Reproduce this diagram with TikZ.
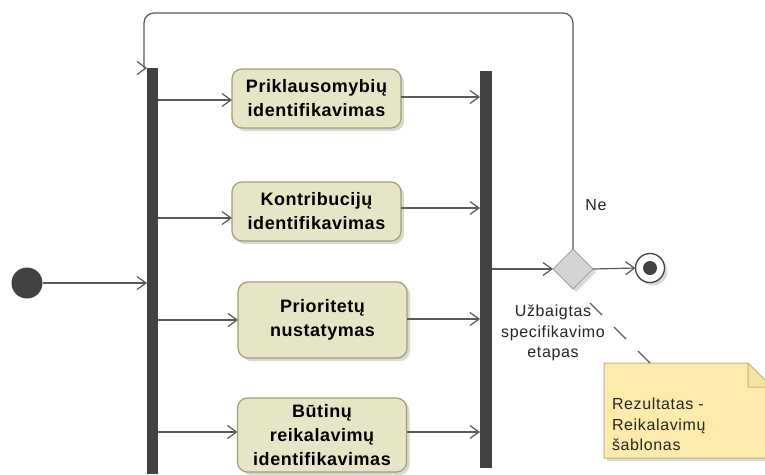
\documentclass[tikz,border=0pt]{standalone}
\usepackage{fontspec}
\setmainfont{Liberation Sans}
\newfontfamily\actfont{Liberation Sans}[LetterSpace=3]
\newfontfamily\lblfont{Liberation Sans}[LetterSpace=4]
\usetikzlibrary{arrows.meta,shapes.geometric,shadows,calc}
\definecolor{actfill}{HTML}{E6E6C6}
\definecolor{actborder}{HTML}{A0A070}
\definecolor{bardark}{HTML}{424242}
\definecolor{edgecol}{HTML}{5A5A5A}
\definecolor{diafill}{HTML}{D4D4D4}
\definecolor{diaborder}{HTML}{A0A0A0}
\definecolor{notefill}{HTML}{FCEBAA}
\definecolor{noteborder}{HTML}{C8B478}
\begin{document}
\begin{tikzpicture}[x=1pt,y=-1pt,
  every node/.style={inner sep=0pt, outer sep=0pt},
  shad/.style={drop shadow={shadow xshift=3pt, shadow yshift=-3pt, fill=black!30, opacity=0.5}},
  action/.style={rectangle, rounded corners=10pt, draw=actborder, fill=actfill, line width=1.2pt,
    minimum width=169pt, align=center, shad,
    font={\actfont\bfseries\fontsize{18}{24}\selectfont}},
  bar/.style={rectangle, fill=bardark, draw=none, minimum width=11pt},
  lbl/.style={font={\lblfont\fontsize{16}{20.5}\selectfont}, text=black!85},
  line/.style={draw=edgecol, line width=1.2pt},
  flow/.style={line, -{Straight Barb[length=9pt, width=13pt, line width=1.2pt]}},
  notelink/.style={draw=edgecol, line width=1.2pt, dash pattern=on 17pt off 17pt}
]
\useasboundingbox (0,0) rectangle (765,474);
\clip (0,0) rectangle (765,474);
\fill[white] (0,0) rectangle (765,474);

% bars
\node[bar, minimum height=406pt] (fork) at (152.5,271) {};
\node[bar, minimum width=12pt, minimum height=397pt] (join) at (486,269.5) {};

% initial / final / decision
\node[circle, fill=bardark, minimum size=31pt] (init) at (27,283) {};
\node[circle, draw=bardark, line width=1.3pt, fill=white, minimum size=29pt, shad] (final) at (650,268) {};
\node[circle, fill=bardark, minimum size=14pt] (finaldot) at (final) {};
\node[diamond, draw=diaborder, fill=diafill, line width=1pt, minimum width=40pt, minimum height=40pt, shad] (dia) at (573,269) {};

% actions
\node[action, minimum height=59pt] (a1) at (316.5,98.5) {Priklausomybių\\identifikavimas};
\node[action, minimum height=59pt] (a2) at (316.5,211.5) {Kontribucijų\\identifikavimas};
\node[action, minimum height=76pt] (a3) at (322.5,320) {Prioritetų\\nustatymas};
\node[action, minimum height=74pt] (a4) at (322,435) {Būtinų\\reikalavimų\\identifikavimas};

% note
\fill[black!30, opacity=0.5] (607,366) -- (751,366) -- (775,390) -- (775,461) -- (607,461) -- cycle;
\draw[draw=noteborder, fill=notefill, line width=1pt] (604,363) -- (748,363) -- (772,387) -- (772,458) -- (604,458) -- cycle;
\draw[draw=noteborder, fill=notefill!85!noteborder, line width=1pt] (748,363) -- (748,387) -- (772,387) -- cycle;
\node[lbl, align=left, anchor=north west] (notetext) at (612,398) {Rezultatas -\\Reikalavimų\\šablonas};
\coordinate (notetop) at (650,363);
\coordinate (linkstart) at (590,303);

% labels
\node[lbl] (ne) at (596,205) {Ne};
\node[lbl, align=center] (guard) at (553,333) {Užbaigtas\\specifikavimo\\etapas};

% connectors
\draw[flow] (init.east) -- (init -| fork.west);

\path ([yshift=-1.5pt]a1.west) coordinate (a1i) ([yshift=1.5pt]a1.east) coordinate (a1o);
\path ([yshift=-6.5pt]a2.west) coordinate (a2i) ([yshift=3.5pt]a2.east) coordinate (a2o);
\path (a3.west) coordinate (a3i) ([yshift=1pt]a3.east) coordinate (a3o);
\path ([yshift=3pt]a4.west) coordinate (a4i) ([yshift=3pt]a4.east) coordinate (a4o);

\draw[flow] (a1i -| fork.east) -- (a1i);
\draw[flow] (a2i -| fork.east) -- (a2i);
\draw[flow] (a3i -| fork.east) -- (a3i);
\draw[flow] (a4i -| fork.east) -- (a4i);
\draw[flow] (a1o) -- (a1o -| join.west);
\draw[flow] (a2o) -- (a2o -| join.west);
\draw[flow] (a3o) -- (a3o -| join.west);
\draw[flow] (a4o) -- (a4o -| join.west);

\draw[flow] (dia.west -| join.east) -- (dia.west);
\draw[flow] (dia.east) -- (final.west);

\coordinate (lc) at (144,13);
\coordinate (ld) at (144,68);
\draw[line, rounded corners=10pt] (dia.north) |- (lc) -- (ld);
\draw[flow] (ld) -- (fork.north west);

\draw[notelink] (linkstart) -- (notetop);
\end{tikzpicture}
\end{document}
